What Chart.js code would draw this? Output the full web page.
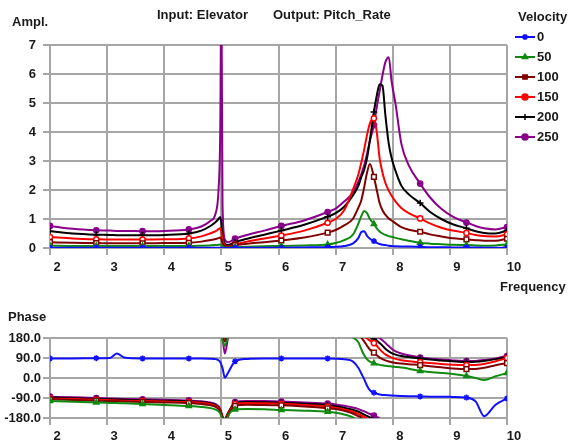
<!DOCTYPE html>
<html>
<head>
<meta charset="utf-8">
<script src="https://cdn.jsdelivr.net/npm/chart.js@4.4.1/dist/chart.umd.min.js"></script>
<style>
  html, body { margin: 0; padding: 0; background: #fff; }
  #wrap { position: relative; width: 573px; height: 446px; }
  #ampl { position: absolute; left: 0; top: 0; }
  #phase { position: absolute; left: 0; top: 300px; }
</style>
</head>
<body>
<div id="wrap">
  <canvas id="ampl" width="573" height="300"></canvas>
  <canvas id="phase" width="573" height="146"></canvas>
</div>
<script>
// Bode plot Elevator -> Pitch_Rate, one curve per velocity

const freq = [2.0, 2.4, 2.81, 3.05, 3.17, 3.3, 3.62, 4.0, 4.43, 4.65,
  4.8, 4.9, 4.95, 4.98, 5.0, 5.02, 5.06, 5.12, 5.24, 5.45,
  5.75, 6.05, 6.45, 6.86, 7.0, 7.15, 7.3, 7.4, 7.45, 7.5,
  7.55, 7.6, 7.67, 7.72, 7.77, 7.82, 7.87, 7.93, 7.98, 8.05,
  8.15, 8.28, 8.48, 8.65, 8.85, 9.05, 9.29, 9.45, 9.6, 9.8, 10.0];

// amplitude
const amp0 = [0.01, 0.01, 0.01, 0.01, 0.01, 0.01, 0.01, 0.01, 0.01, 0.01,
  0.01, 0.01, 0.01, 0.01, 0.01, 0, 0, 0, 0.01, 0.01,
  0.01, 0.01, 0.02, 0.03, 0.04, 0.07, 0.15, 0.35, 0.55, 0.58,
  0.42, 0.32, 0.24, 0.18, 0.14, 0.11, 0.10, 0.08, 0.07, 0.06,
  0.05, 0.05, 0.04, 0.03, 0.03, 0.02, 0.02, 0.02, 0.01, 0.01, 0.01];
const amp50 = [0.08, 0.07, 0.07, 0.07, 0.07, 0.07, 0.07, 0.07, 0.07, 0.08,
  0.09, 0.10, 0.11, 0.12, 0.10, 0.05, 0.02, 0.02, 0.03, 0.04,
  0.06, 0.07, 0.09, 0.12, 0.17, 0.27, 0.45, 0.85, 1.10, 1.28,
  1.20, 1.00, 0.83, 0.68, 0.57, 0.50, 0.45, 0.41, 0.39, 0.35,
  0.30, 0.25, 0.18, 0.15, 0.13, 0.11, 0.10, 0.09, 0.08, 0.09, 0.12];
const amp100 = [0.20, 0.18, 0.17, 0.16, 0.16, 0.16, 0.16, 0.17, 0.18, 0.22,
  0.27, 0.31, 0.34, 0.36, 0.30, 0.16, 0.07, 0.06, 0.10, 0.15,
  0.20, 0.26, 0.36, 0.53, 0.62, 0.78, 1.00, 1.40, 1.65, 2.10,
  2.60, 2.90, 2.45, 2.00, 1.55, 1.30, 1.15, 1.02, 0.95, 0.85,
  0.72, 0.63, 0.56, 0.47, 0.40, 0.34, 0.30, 0.27, 0.25, 0.25, 0.32];
const amp150 = [0.38, 0.33, 0.30, 0.29, 0.29, 0.29, 0.29, 0.30, 0.33, 0.40,
  0.50, 0.58, 0.65, 0.69, 0.55, 0.28, 0.10, 0.06, 0.12, 0.22,
  0.33, 0.43, 0.60, 0.87, 1.00, 1.30, 2.00, 2.55, 2.95, 3.40,
  3.90, 4.30, 4.47, 4.00, 3.10, 2.60, 2.25, 1.98, 1.80, 1.60,
  1.38, 1.20, 1.02, 0.85, 0.70, 0.60, 0.52, 0.45, 0.41, 0.40, 0.47];
const amp200 = [0.58, 0.50, 0.46, 0.45, 0.44, 0.44, 0.44, 0.45, 0.50, 0.60,
  0.75, 0.90, 1.00, 1.07, 0.85, 0.45, 0.15, 0.10, 0.20, 0.32,
  0.46, 0.60, 0.80, 1.08, 1.20, 1.42, 1.80, 2.15, 2.45, 2.70,
  3.10, 3.72, 4.69, 5.25, 5.65, 5.60, 4.60, 3.60, 3.10, 2.65,
  2.15, 1.85, 1.55, 1.25, 1.00, 0.82, 0.68, 0.58, 0.52, 0.50, 0.60];
const amp250 = [0.76, 0.66, 0.61, 0.60, 0.59, 0.59, 0.58, 0.59, 0.64, 0.74,
  0.92, 1.20, 2.00, 4.00, 9.00, 1.50, 0.30, 0.20, 0.32, 0.45,
  0.60, 0.76, 0.95, 1.24, 1.36, 1.60, 1.90, 2.30, 2.55, 2.85,
  3.25, 3.70, 4.24, 4.85, 5.40, 5.95, 6.40, 6.58, 5.75, 4.95,
  3.60, 2.85, 2.22, 1.75, 1.35, 1.08, 0.88, 0.76, 0.68, 0.64, 0.72];

// phase (degrés, non repliée : le repli sur [-180,180] se fait plus bas)
const ph0 = [88, 88, 89, 90, 110, 92, 88, 88, 88, 88,
  87, 85, 80, 72, 60, 45, 2, 25, 75, 86,
  88, 88, 88, 88, 87, 84, 75, 45, 20, -5,
  -35, -55, -66, -71, -74, -76, -77, -78, -79, -80,
  -81, -82, -83, -84, -84, -85, -88, -105, -172, -120, -92];
const ph50 = [-104, -107, -110, -112, -113, -114, -117, -121, -126, -130,
  -135, -142, -150, -160, -172, -190, -215, -170, -142, -140,
  -141, -144, -147, -152, -156, -164, -177, -200, -230, -258,
  -276, -286, -294, -298, -301, -303, -305, -307, -308, -310,
  -313, -318, -329, -333, -337, -342, -351, -360, -369, -352, -338];
const ph100 = [-96, -99, -102, -104, -105, -106, -108, -110, -113, -117,
  -122, -130, -140, -152, -165, -178, -195, -165, -125, -120,
  -121, -123, -128, -136, -140, -148, -160, -172, -178, -195,
  -215, -232, -246, -258, -268, -275, -281, -286, -289, -292,
  -295, -298, -302, -307, -312, -317, -320, -319, -314, -303, -293];
const ph150 = [-92, -95, -98, -100, -101, -102, -104, -106, -108, -112,
  -117, -125, -135, -148, -162, -176, -192, -160, -118, -113,
  -114, -116, -121, -129, -134, -142, -152, -162, -168, -175,
  -182, -192, -203, -215, -230, -243, -254, -262, -268, -274,
  -280, -285, -289, -293, -297, -300, -302, -301, -297, -285, -270];
const ph200 = [-88, -91, -94, -96, -97, -98, -100, -102, -105, -109,
  -114, -122, -132, -145, -160, -176, -190, -155, -113, -108,
  -109, -111, -116, -122, -127, -134, -143, -152, -158, -165,
  -171, -177, -184, -192, -203, -215, -228, -240, -248, -255,
  -261, -266, -272, -277, -281, -285, -288, -287, -283, -275, -265];
const ph250 = [-84, -87, -90, -92, -93, -94, -96, -98, -101, -105,
  -110, -118, -127, -140, -155, -172, -250, -172, -108, -103,
  -104, -106, -110, -115, -119, -125, -133, -140, -145, -150,
  -156, -162, -169, -175, -181, -190, -202, -216, -228, -240,
  -250, -258, -268, -273, -277, -281, -284, -283, -279, -272, -261];

const velocities = ["0", "50", "100", "150", "200", "250"];
const markerFreq = [2.0, 2.81, 3.62, 4.43, 5.24, 6.05, 6.86, 7.67, 8.48, 9.29, 10.0];
const phaseTicks = [-180, -90, 0, 90, 180];

const colors = ["#1010ff", "#108a10", "#800000", "#ff0000", "#000000", "#8a008a"];
const markerStyles = ["star", "triangle", "rect", "circle", "cross", "circle"];
const markerFill = ["#1010ff", "#108a10", "#ffffff", "#ffffff", "#000000", "#8a008a"];
const markerSize = [3, 3, 3.3, 2.6, 3.3, 2.6];

const FONT = "'Liberation Sans', Arial, sans-serif";
const TXT = "#1a1a1a";
const GRID = "#a6a6a6";
Chart.defaults.font.family = FONT;
Chart.defaults.color = TXT;

// replie la phase sur [-180,180] et coupe la courbe au saut
function wrapPhase(values) {
  const w = v => ((v + 180) % 360 + 360) % 360 - 180;
  const out = [];
  values.forEach((v, i) => {
    const cur = w(v);
    if (i > 0) {
      const prev = w(values[i - 1]);
      const d = v - values[i - 1];
      if (Math.abs(cur - prev) > 180) {
        out.push({ x: freq[i], y: prev + d });
        out.push({ x: freq[i], y: null });
        out.push({ x: freq[i - 1], y: cur - d });
      }
    }
    out.push({ x: freq[i], y: cur });
  });
  return out;
}

function markerRadius(i, lo, hi) {
  return ctx => {
    const p = ctx.raw;
    if (!p || p.y === null) return 0;
    return markerFreq.includes(p.x) && p.y >= lo && p.y <= hi ? markerSize[i] : 0;
  };
}

function makeDataset(i, points, lo, hi) {
  return {
    label: velocities[i],
    data: points,
    borderColor: colors[i],
    backgroundColor: markerFill[i],
    borderWidth: 2,
    pointStyle: markerStyles[i],
    pointBorderColor: colors[i],
    pointBackgroundColor: markerFill[i],
    pointBorderWidth: 1.5,
    pointRadius: markerRadius(i, lo, hi),
    cubicInterpolationMode: "monotone",
    spanGaps: false
  };
}

// textes libres + légende
const textPlugin = {
  id: "textes",
  afterDraw(chart, args, opts) {
    const c = chart.ctx;
    c.save();
    c.font = "bold 13px " + FONT;
    c.textBaseline = "middle";
    c.textAlign = "left";
    c.fillStyle = TXT;
    (opts.items || []).forEach(t => c.fillText(t.text, t.x, t.y));
    if (opts.legend) {
      velocities.forEach((v, i) => {
        const y = 37 + i * 20;
        c.strokeStyle = colors[i];
        c.lineWidth = 2;
        c.beginPath();
        c.moveTo(515, y);
        c.lineTo(535, y);
        c.stroke();
        c.fillStyle = colors[i];
        c.lineWidth = 1.5;
        Chart.helpers.drawPoint(c, { pointStyle: markerStyles[i], radius: 3, borderWidth: 1.5 }, 525, y);
        c.fillStyle = TXT;
        c.fillText(v, 537, y);
      });
    }
    c.restore();
  }
};

const tickFont = { size: 13, weight: "bold", family: FONT };

function xScale(h, pad) {
  return {
    type: "linear", min: 2, max: 10,
    afterFit: s => { s.height = h; },
    ticks: { stepSize: 1, labelOffset: 7, padding: pad, font: tickFont, color: TXT, maxRotation: 0 },
    grid: { color: GRID, lineWidth: 2, tickLength: 7, tickColor: GRID },
    border: { color: GRID, width: 2 }
  };
}

const ampSets = [amp0, amp50, amp100, amp150, amp200, amp250];
const phSets = [ph0, ph50, ph100, ph150, ph200, ph250];

new Chart(document.getElementById("ampl"), {
  type: "line",
  data: {
    datasets: ampSets.map((a, i) => makeDataset(i, freq.map((f, k) => ({ x: f, y: a[k] })), 0, 7))
  },
  options: {
    responsive: false,
    animation: false,
    events: [],
    layout: { padding: { left: 0, right: 66, top: 45, bottom: 22 } },
    plugins: {
      legend: { display: false },
      tooltip: { enabled: false },
      textes: {
        legend: true,
        items: [
          { text: "Ampl.", x: 12, y: 22 },
          { text: "Input: Elevator", x: 157, y: 15 },
          { text: "Output: Pitch_Rate", x: 273, y: 15 },
          { text: "Velocity", x: 518, y: 17 },
          { text: "Frequency", x: 500, y: 287 }
        ]
      }
    },
    scales: {
      x: xScale(30, 5),
      y: {
        min: 0, max: 7,
        afterFit: s => { s.width = 50; },
        ticks: { stepSize: 1, padding: 7, font: tickFont, color: TXT },
        grid: { color: GRID, lineWidth: 2, tickLength: 7, tickColor: GRID },
        border: { color: GRID, width: 2 }
      }
    }
  },
  plugins: [textPlugin]
});

new Chart(document.getElementById("phase"), {
  type: "line",
  data: {
    datasets: phSets.map((p, i) => makeDataset(i, wrapPhase(p), -180, 180))
  },
  options: {
    responsive: false,
    animation: false,
    events: [],
    layout: { padding: { left: 0, right: 66, top: 38, bottom: 0 } },
    plugins: {
      legend: { display: false },
      tooltip: { enabled: false },
      textes: { items: [{ text: "Phase", x: 8, y: 17 }] }
    },
    scales: {
      x: xScale(28, 4),
      y: {
        min: -180, max: 180,
        afterFit: s => { s.width = 50; },
        afterBuildTicks: s => { s.ticks = phaseTicks.map(v => ({ value: v })); },
        ticks: { padding: 2, font: tickFont, color: TXT, callback: v => v.toFixed(1) },
        grid: { color: GRID, lineWidth: 2, tickLength: 7, tickColor: GRID },
        border: { color: GRID, width: 2 }
      }
    }
  },
  plugins: [textPlugin]
});
</script>
</body>
</html>
